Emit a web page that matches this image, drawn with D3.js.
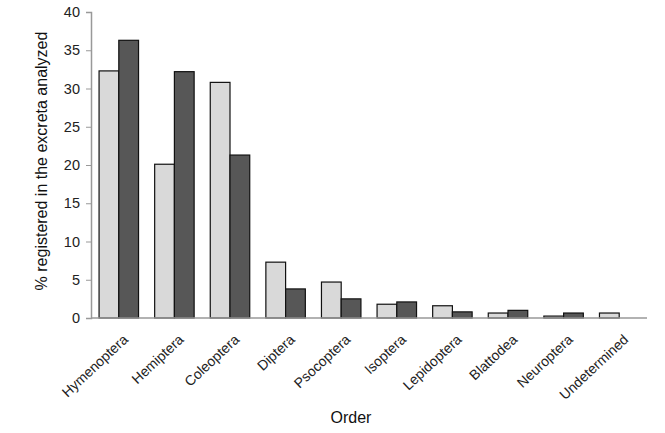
<!DOCTYPE html>
<html><head><meta charset="utf-8">
<script src="https://cdn.jsdelivr.net/npm/d3@7"></script>
<style>body{margin:0;background:#fff;}svg{display:block;font-family:Arial,"Liberation Sans",sans-serif;}</style>
</head><body><svg id="c" width="665" height="433"></svg>
<script>
const categories = ["Hymenoptera","Hemiptera","Coleoptera","Diptera","Psocoptera","Isoptera","Lepidoptera","Blattodea","Neuroptera","Undetermined"];
const seriesLight = [32.3,20.1,30.8,7.3,4.7,1.8,1.6,0.65,0.25,0.65];
const seriesDark  = [36.3,32.2,21.3,3.8,2.5,2.1,0.8,1.0,0.65,0];
const yTicks = [0,5,10,15,20,25,30,35,40];

const svg = d3.select("#c");
const m = {l:91, r:18, t:12, b:115};
const W = 665, H = 433;
const x = d3.scaleBand().domain(categories).range([m.l, W - m.r]).paddingInner(0.29).paddingOuter(0.145);
const x1 = d3.scaleBand().domain(["light","dark"]).range([0, x.bandwidth()]);
const y = d3.scaleLinear().domain([0,40]).range([H - m.b, m.t]);

const data = categories.map((c,i)=>({c, vals:[{k:"light",v:seriesLight[i]},{k:"dark",v:seriesDark[i]}]}));
const fills = {light:"#d9d9d9", dark:"#575757"};

const g = svg.append("g");
g.selectAll("g.cat").data(data).join("g").attr("class","cat")
 .attr("transform", d=>`translate(${x(d.c)},0)`)
 .selectAll("rect").data(d=>d.vals.filter(e=>e.v>0)).join("rect")
 .attr("x", e=>x1(e.k)).attr("width", x1.bandwidth())
 .attr("y", e=>y(e.v)).attr("height", e=>y(0)-y(e.v))
 .attr("fill", e=>fills[e.k]).attr("stroke","#111").attr("stroke-width",1.2);

// y axis
const ya = svg.append("g").attr("transform",`translate(${m.l},0)`)
 .call(d3.axisLeft(y).tickValues(yTicks).tickSize(5).tickPadding(6));
ya.select(".domain").attr("stroke","#999").attr("stroke-width",1.5);
ya.selectAll(".tick line").attr("stroke","#999");
ya.selectAll(".tick text").attr("font-size",14.5).attr("fill","#222").attr("font-family","Arial, 'Liberation Sans', sans-serif");

// x axis
const xa = svg.append("g").attr("transform",`translate(0,${y(0)})`)
 .call(d3.axisBottom(x).tickSize(0).tickPadding(0));
xa.select(".domain").attr("stroke","#999").attr("stroke-width",1.5).attr("d",`M${m.l},0H${W-m.r}`);
xa.selectAll(".tick text").attr("font-size",14).attr("fill","#222")
 .attr("font-family","Arial, 'Liberation Sans', sans-serif")
 .attr("text-anchor","end").attr("dy",null)
 .attr("transform","translate(3,15) rotate(-43)")
 .attr("y",0).attr("x",0).attr("dominant-baseline","hanging");

svg.append("text").attr("transform",`translate(47,${(m.t + H - m.b)/2 - 4}) rotate(-90)`)
 .attr("text-anchor","middle").attr("font-size",16).attr("fill","#111").text("% registered in the excreta analyzed");
svg.append("text").attr("x",351).attr("y",423).attr("text-anchor","middle")
 .attr("font-size",16).attr("fill","#111").text("Order");
</script></body></html>
